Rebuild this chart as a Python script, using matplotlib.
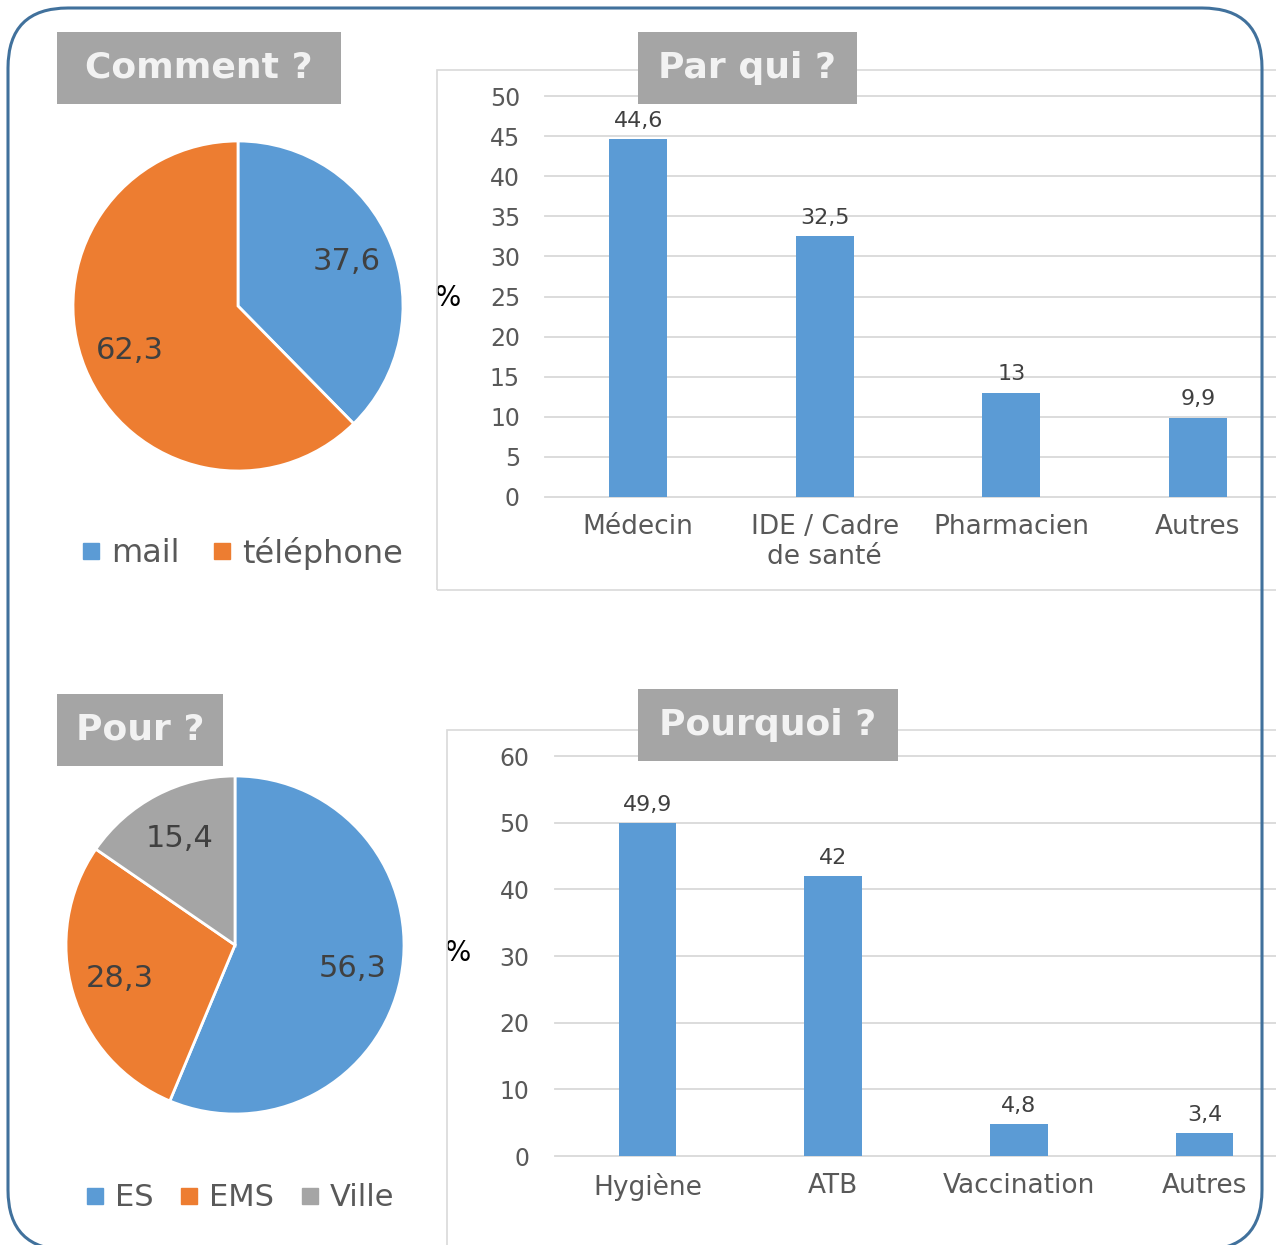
import numpy as np
import matplotlib.pyplot as plt
from matplotlib.patches import FancyBboxPatch, Rectangle
from matplotlib.lines import Line2D

W, H = 1276, 1245

# data
comment_labels = ['mail', 'téléphone']
comment_values = [37.6, 62.3]
pour_labels = ['ES', 'EMS', 'Ville']
pour_values = [56.3, 28.3, 15.4]
parqui_cats = ['Médecin', 'IDE / Cadre\nde santé', 'Pharmacien', 'Autres']
parqui_values = [44.6, 32.5, 13, 9.9]
pourquoi_cats = ['Hygiène', 'ATB', 'Vaccination', 'Autres']
pourquoi_values = [49.9, 42, 4.8, 3.4]

blue = '#5B9BD5'
orange = '#ED7D31'
grey = '#A5A5A5'

plt.rcParams['font.family'] = ['DejaVu Sans']


def fr(v):
    return ('%g' % v).replace('.', ',')


def px_box(x0, y0, x1, y1):
    return [x0 / W, 1 - y1 / H, (x1 - x0) / W, (y1 - y0) / H]


fig = plt.figure(figsize=(W / 100, H / 100), dpi=100)


def draw_pie(cx, cy, r, values, colors, labels, leg_x, leg_y, leg_fs, colsp):
    pad = 1.05
    ax = fig.add_axes(px_box(cx - r * pad, cy - r * pad, cx + r * pad, cy + r * pad))
    wedges, texts = ax.pie(values, colors=colors, startangle=90, counterclock=False,
                           labels=[fr(v) for v in values], labeldistance=0.71,
                           wedgeprops=dict(edgecolor='white', linewidth=2),
                           textprops=dict(fontsize=22, color='#404040'))
    for t in texts:
        t.set_ha('center')
        t.set_va('center')
    ax.set_xlim(-pad, pad)
    ax.set_ylim(-pad, pad)
    ax.set_aspect('equal')
    handles = [Line2D([], [], marker='s', ls='none', color=c, markersize=11) for c in colors]
    fig.legend(handles, labels, loc='center', bbox_to_anchor=(leg_x / W, 1 - leg_y / H),
               ncol=len(labels), frameon=False, fontsize=leg_fs, handlelength=0.5,
               handletextpad=0.4, columnspacing=colsp, labelcolor='#595959',
               borderpad=0, borderaxespad=0)


def draw_bars(box, cats, values, ymax, step, pct_pos):
    ax = fig.add_axes(px_box(*box))
    ax.set_facecolor('none')
    x = np.arange(len(cats))
    bars = ax.bar(x, values, width=0.31, color=blue, zorder=3)
    ax.bar_label(bars, labels=[fr(v) for v in values], padding=6, fontsize=16, color='#404040')
    ax.set_xlim(-0.5, len(cats) - 0.5)
    ax.set_ylim(0, ymax)
    ax.set_yticks(np.arange(0, ymax + 1, step))
    ax.set_xticks(x, cats)
    ax.grid(axis='y', color='#D9D9D9', lw=1.3)
    ax.set_axisbelow(True)
    for l in ax.get_ygridlines():
        l.set_clip_on(False)
    for s in ax.spines.values():
        s.set_visible(False)
    ax.tick_params(length=0, labelcolor='#595959')
    ax.tick_params(axis='y', pad=18, labelsize=17)
    ax.tick_params(axis='x', pad=12, labelsize=19)
    ax.set_ylabel('%', rotation=0, fontsize=20, color='black', ha='center', va='center')
    ax.yaxis.set_label_coords(*pct_pos)


draw_pie(238, 306, 165, comment_values, [blue, orange], comment_labels, 243, 553, 23, 1.05)
draw_pie(235, 945, 169, pour_values, [blue, orange, grey], pour_labels, 241, 1198, 22, 0.92)

draw_bars((545, 96, 1291, 497), parqui_cats, parqui_values, 50, 5, (-0.13, 0.496))
draw_bars((554.5, 756, 1297.3, 1156), pourquoi_cats, pourquoi_values, 60, 10, (-0.131, 0.507))

# overlay in pixel units (y measured from top, flipped by hand)
ov = fig.add_axes([0, 0, 1, 1], zorder=10)
ov.set_xlim(0, W)
ov.set_ylim(0, H)
ov.axis('off')
ov.set_facecolor('none')


def rect(x0, y0, x1, y1, **kw):
    return Rectangle((x0, H - y1), x1 - x0, y1 - y0, **kw)


ov.add_patch(rect(437, 70, 1297, 590, fill=False, ec='#D9D9D9', lw=1.2))
ov.add_patch(rect(447, 730, 1297, 1270, fill=False, ec='#D9D9D9', lw=1.2))

titles = [('Comment ?', 57, 32, 341, 104),
          ('Par qui ?', 638, 32, 857, 104),
          ('Pour ?', 57, 694, 223, 766),
          ('Pourquoi ?', 638, 689, 898, 761)]
for txt, x0, y0, x1, y1 in titles:
    ov.add_patch(rect(x0, y0, x1, y1, color=grey, lw=0))
    ov.text((x0 + x1) / 2, H - (y0 + y1) / 2, txt, ha='center', va='center',
            fontsize=26, fontweight='bold', color='#F2F2F2')

ov.add_patch(FancyBboxPatch((8, H - 1250), 1262 - 8, 1250 - 8,
                            boxstyle='round,pad=0,rounding_size=60',
                            fill=False, ec='#41719C', lw=2.2, clip_on=False))

fig.savefig('out.png', dpi=100)
